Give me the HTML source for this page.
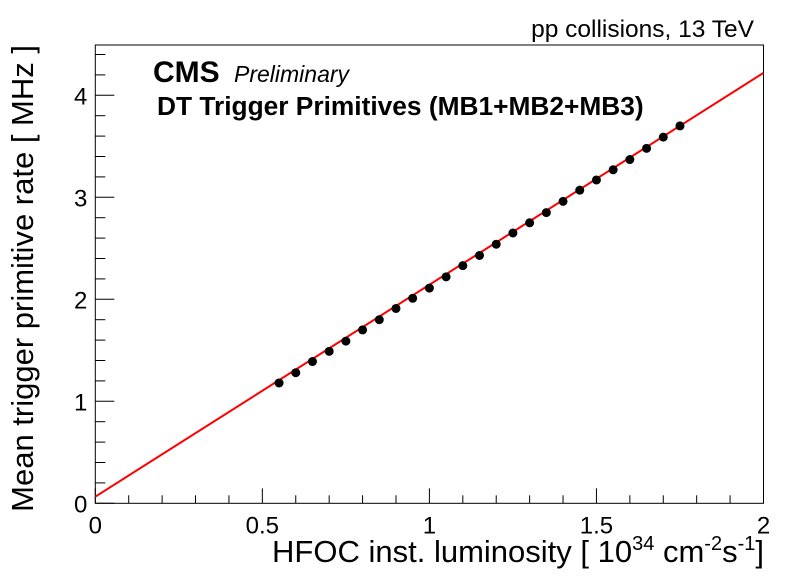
<!DOCTYPE html>
<html><head><meta charset="utf-8"><style>
body{margin:0;background:#fff;}
svg text{font-family:"Liberation Sans",Arial,sans-serif;}
</style></head><body>
<svg id="chart" width="796" height="572" xmlns="http://www.w3.org/2000/svg">
<rect width="796" height="572" fill="#fff"/>
<g id="g"></g>
</svg>
<script>
const xVals=[0.55,0.60,0.65,0.70,0.75,0.80,0.85,0.90,0.95,1.00,1.05,1.10,1.15,1.20,1.25,1.30,1.35,1.40,1.45,1.50,1.55,1.60,1.65,1.70,1.75];
const yVals=[1.18,1.28,1.39,1.49,1.59,1.70,1.80,1.91,2.01,2.11,2.22,2.33,2.43,2.54,2.65,2.75,2.85,2.96,3.07,3.17,3.27,3.37,3.48,3.59,3.70];
const fitX=[0,2];
const fitY=[0.065,4.22];
const xTicks=[0,0.5,1,1.5,2];
const xTickLabels=["0","0.5","1","1.5","2"];
const yTicks=[0,1,2,3,4];
const yTickLabels=["0","1","2","3","4"];
const L=95.3,R=763.5,T=45,B=503.3;
const sx=v=>L+(v-0)/(2-0)*(R-L);
const sy=v=>B-v*102;
const NS="http://www.w3.org/2000/svg";
const g=document.getElementById('g');
function mk(tag,attrs,name,txt){const e=document.createElementNS(NS,tag);for(const k in attrs)e.setAttribute(k,attrs[k]);


if(txt!==undefined)e.textContent=txt;g.appendChild(e);return e;}
mk('rect',{x:L,y:T,width:R-L,height:B-T,fill:'none',stroke:'#000','stroke-width':1},'plot-frame');
for(let i=0;i<=20;i++){const v=i*0.1;const x=sx(v);const major=i%5===0;
mk('line',{x1:x,x2:x,y1:B,y2:B-(major?15:8),stroke:'#000'},'x-tick');}
xTicks.forEach((v,i)=>mk('text',{x:sx(v),y:B+30,'font-size':24,'text-anchor':'middle'},'x-tick-label',xTickLabels[i]));
for(let i=0;i<=22;i++){const v=i*0.2;const y=sy(v);if(y<T)break;const major=i%5===0;
mk('line',{x1:L,x2:L+(major?19:10),y1:y,y2:y,stroke:'#000'},'y-tick');}
yTicks.forEach((v,i)=>mk('text',{x:L-8,y:sy(v)+9,'font-size':24,'text-anchor':'end'},'y-tick-label',yTickLabels[i]));
mk('line',{x1:sx(fitX[0]),y1:sy(fitY[0]),x2:sx(fitX[1]),y2:sy(fitY[1]),stroke:'#f00','stroke-width':2},'fit-line');
xVals.forEach((v,i)=>mk('circle',{cx:sx(v),cy:sy(yVals[i]),r:4.5,fill:'#000'},'data-point'));
mk('text',{x:764,y:562,'font-size':31,'text-anchor':'end'},'x-axis-title').innerHTML='HFOC inst. luminosity [ 10<tspan dy="-12" font-size="20">34</tspan><tspan dy="12"> cm</tspan><tspan dy="-12" font-size="20">-2</tspan><tspan dy="12">s</tspan><tspan dy="-12" font-size="20">-1</tspan><tspan dy="12">]</tspan>';
mk('text',{x:0,y:0,'font-size':31,'text-anchor':'end',transform:'translate(33,45) rotate(-90)'},'y-axis-title','Mean trigger primitive rate [ MHz ]');
mk('text',{x:754,y:37,'font-size':24.5,'text-anchor':'end'},'energy-label','pp collisions, 13 TeV');
mk('text',{x:153,y:82,'font-size':30,'font-weight':'bold'},'cms-label','CMS');
mk('text',{x:234,y:82,'font-size':23,'font-style':'italic'},'preliminary-label','Preliminary');
mk('text',{x:157,y:115,'font-size':26.3,'font-weight':'bold'},'subtitle','DT Trigger Primitives (MB1+MB2+MB3)');
</script>
</body></html>
